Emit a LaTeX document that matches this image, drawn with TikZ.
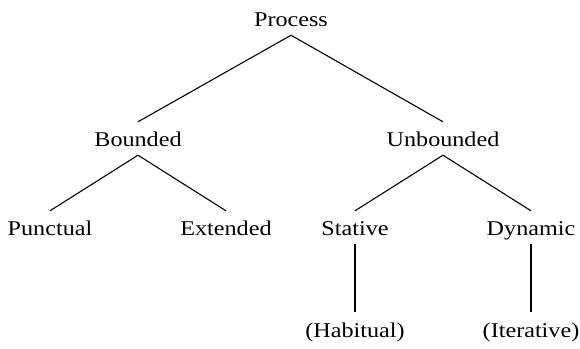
\documentclass[tikz,border=0pt]{standalone}
\usepackage{fontspec}
\setmainfont{Liberation Serif}[FakeStretch=1.15]
\begin{document}
\begin{tikzpicture}[x=1pt,y=1pt,
    term/.style={inner sep=0pt, anchor=base, text height=25pt, text depth=8pt,
                 font=\fontsize{21}{25}\selectfont},
    branch/.style={line width=1.1pt, black}]
  \useasboundingbox (0,0) rectangle (580,348);
  % categories, placed by baseline
  \node[term] (proc) at (291,321) {Process};
  \node[term] (bnd)  at (138,201) {Bounded};
  \node[term] (unb)  at (443,201) {Unbounded};
  \node[term] (pun)  at (50,112)  {Punctual};
  \node[term] (ext)  at (226,112) {Extended};
  \node[term] (sta)  at (355,112) {Stative};
  \node[term] (dyn)  at (531,112) {Dynamic};
  \node[term] (hab)  at (355,11)  {(Habitual)};
  \node[term] (ite)  at (531,11)  {(Iterative)};
  % branches
  \draw[branch] (bnd.north) -- (proc.south) -- (unb.north);
  \draw[branch] (pun.north) -- (bnd.south) -- (ext.north);
  \draw[branch] (sta.north) -- (unb.south) -- (dyn.north);
  \draw[branch] (sta.south) -- (hab.north);
  \draw[branch] (dyn.south) -- (ite.north);
\end{tikzpicture}
\end{document}
